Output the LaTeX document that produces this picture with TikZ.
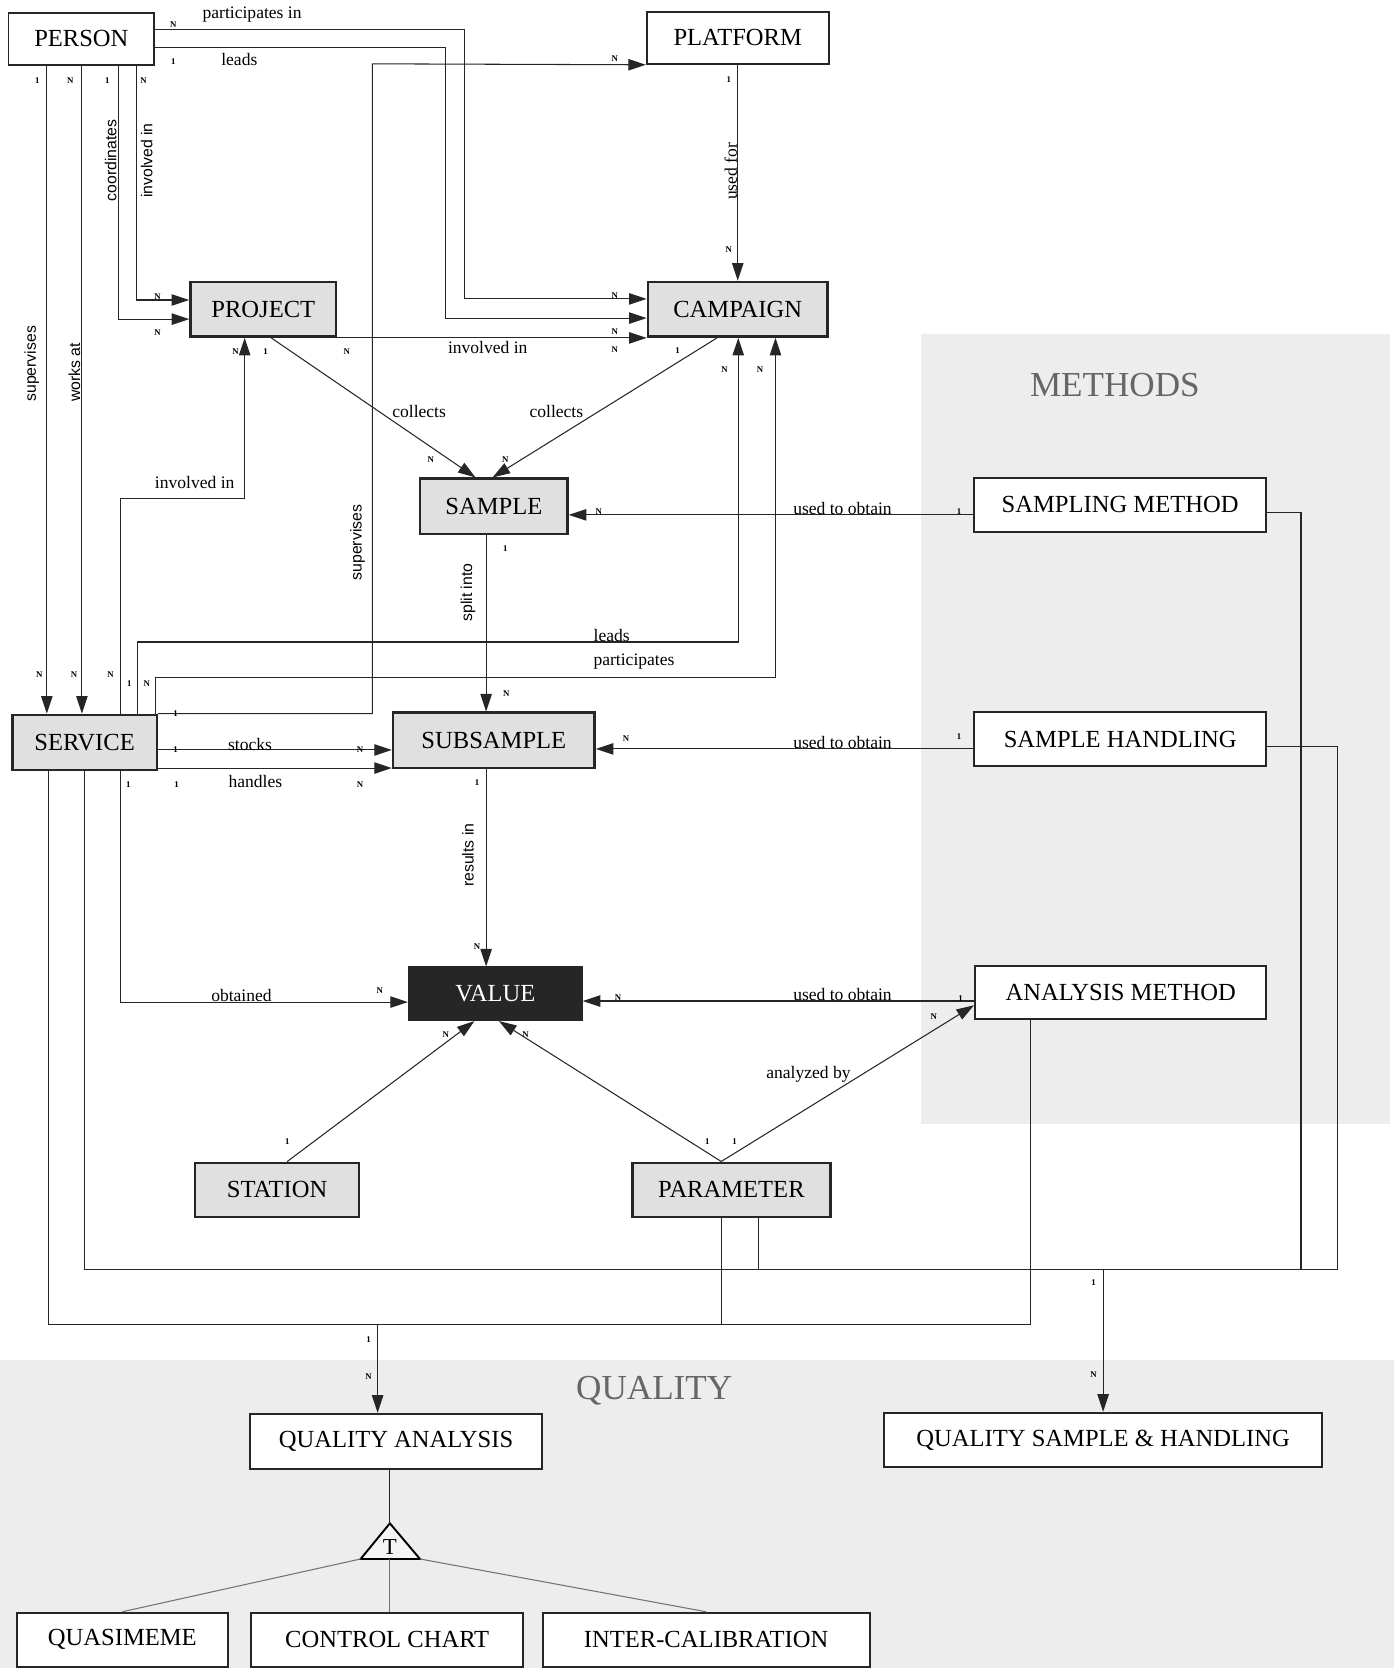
\documentclass[tikz,border=0pt]{standalone}
\usepackage{fontspec}
\setmainfont{Liberation Serif}
\setsansfont{Liberation Sans}
\usetikzlibrary{arrows.meta}

\begin{document}
\begin{tikzpicture}[x=0.0213cm, y=-0.0213cm,
    box/.style={draw=black!85, line width=1.1pt, fill=white, inner sep=0pt, font=\fontsize{14}{16}\selectfont},
    entity/.style={box, fill=black!12, line width=1.4pt},
    rel/.style={draw=black!85, line width=0.6pt, -{Triangle[length=10pt,width=6.5pt]}},
    link/.style={draw=black!85, line width=0.6pt},
    lab/.style={font=\fontsize{10}{12}\selectfont, inner sep=1pt},
    vlab/.style={font=\sffamily\fontsize{9}{11}\selectfont, rotate=90, inner sep=1pt},
    card/.style={font=\bfseries\fontsize{5}{6}\selectfont, inner sep=0pt},
    area/.style={fill=black!7, draw=none},
    title/.style={text=black!60, font=\fontsize{20}{24}\selectfont}]
        % \draw[help lines, gray!50, very thin] (0,0) grid[step=100] (1316,1568);
        \useasboundingbox (0,0) rectangle (1316,1568);

        \fill[area] (866,314) rectangle (1307,1057);
        \fill[area] (0,1278) rectangle (1310,1568);
        \node[title] (methods) at (1048,362) {METHODS};
        \node[title] (quality) at (615,1307) {QUALITY};

        \node[box, minimum width=2.918cm, minimum height=1.044cm] (person) at (76.5,36.5) {PERSON};
        \node[box, minimum width=3.642cm, minimum height=1.044cm] (platform) at (693.5,35.5) {PLATFORM};
        \node[entity, minimum width=2.918cm, minimum height=1.097cm] (project) at (247.5,290.75) {PROJECT};
        \node[entity, minimum width=3.600cm, minimum height=1.097cm] (campaign) at (693.5,290.75) {CAMPAIGN};
        \node[entity, minimum width=2.950cm, minimum height=1.108cm] (sample) at (464.25,476) {SAMPLE};
        \node[entity, minimum width=4.036cm, minimum height=1.108cm] (subsample) at (464.25,696) {SUBSAMPLE};
        \node[entity, minimum width=2.890cm, minimum height=1.108cm] (service) at (79.5,698) {SERVICE};
        \node[entity, fill=black!85, text=white, minimum width=3.451cm, minimum height=1.044cm] (value) at (465.65,934.2) {VALUE};
        \node[entity, minimum width=3.280cm, minimum height=1.086cm] (station) at (260.5,1118.5) {STATION};
        \node[entity, minimum width=3.962cm, minimum height=1.086cm] (parameter) at (687.5,1118.5) {PARAMETER};
        \node[box, minimum width=5.836cm, minimum height=1.086cm] (sampmethod) at (1053,474.5) {SAMPLING METHOD};
        \node[box, minimum width=5.836cm, minimum height=1.086cm] (samphandling) at (1053,695) {SAMPLE HANDLING};
        \node[box, minimum width=5.836cm, minimum height=1.065cm] (anmethod) at (1053.5,932.7) {ANALYSIS METHOD};
        \node[box, minimum width=5.858cm, minimum height=1.108cm] (qanalysis) at (372.3,1355) {QUALITY ANALYSIS};
        \node[box, minimum width=8.776cm, minimum height=1.086cm] (qsample) at (1037,1353.5) {QUALITY SAMPLE \& HANDLING};
        \node[box, minimum width=4.217cm, minimum height=1.086cm] (quasimeme) at (115,1541.5) {QUASIMEME};
        \node[box, minimum width=5.453cm, minimum height=1.086cm] (ctrlchart) at (364,1541.5) {CONTROL CHART};
        \node[box, minimum width=6.550cm, minimum height=1.086cm] (intercal) at (663.75,1541.5) {INTER-CALIBRATION};

        % person
        \draw[rel] (person.east |- 0,27.6) -| (437,281) -- (campaign.west |- 0,281);
        \node[lab] (lpart) at (237,14) {participates in};
        \draw[rel] (person.east |- 0,44.5) -| (419,299) -- (campaign.west |- 0,299);
        \node[lab] (lleads) at (225,56) {leads};
        \draw[rel] (person.south -| 44,0) -- (service.north -| 44,0);
        \node[vlab] (lsup) at (30,342) {supervises};
        \draw[rel] (person.south -| 77,0) -- (service.north -| 77,0);
        \node[vlab] (lworks) at (70,350) {works at};
        \draw[rel] (person.south -| 111,0) |- (project.west |- 0,300);
        \node[vlab] (lcoord) at (104,151) {coordinates};
        \draw[rel] (person.south -| 128,0) |- (project.west |- 0,282);
        \node[vlab] (linvolved) at (138,151) {involved in};

        % project, campaign, sample
        \draw[rel] (platform.south) -- (campaign.north);
        \node[lab, rotate=90] (lused) at (687,161) {used for};
        \draw[rel] (project.south east) -- (campaign.south west);
        \node[lab] (lprojcamp) at (458.5,327) {involved in};
        \draw[rel] (project.south -| 255,0) -- (sample.north -| 447,0);
        \node[lab] (lcollect) at (394,387) {collects};
        \draw[rel] (campaign.south -| 674,0) -- (sample.north -| 463,0);
        \node[lab] (lcollects) at (523,387) {collects};
        \draw[rel] (sample.south -| 457,0) -- (subsample.north -| 457,0);
        \node[vlab] (lsplit) at (440,557) {split into};
        \draw[rel] (subsample.south -| 457,0) -- (value.north -| 457,0);
        \node[vlab] (lresults) at (440,804) {results in};

        % service
        \draw[rel] (service.north -| 113,0) |- (230,468.5) -- (project.south -| 230,0);
        \node[lab] (lservproj) at (183,454) {involved in};
        \draw[rel] (service.north -| 129,0) |- (694,603.5) -- (campaign.south -| 694,0);
        \node[lab] (lservlead) at (575,597) {leads};
        \draw[rel] (service.north -| 146,0) |- (729,637) -- (campaign.south -| 729,0);
        \node[lab] (lservpart) at (596,622) {participates};
        \draw[rel] (service.north east) -| (350,60) -- (platform.south west);
        \node[vlab] (lservsup) at (336,510) {supervises};
        \draw[rel] (service.east |- 0,705) -- (subsample.west |- 0,705);
        \node[lab] (lstocks) at (235,700) {stocks};
        \draw[rel] (service.east |- 0,722) -- (subsample.west |- 0,722);
        \node[lab] (lhandles) at (240,735) {handles};
        \draw[rel] (service.south -| 113,0) |- (value.west |- 0,942);
        \node[lab] (lobtained) at (227,936) {obtained};

        % methods
        \draw[rel] (sampmethod.west |- 0,484) -- (sample.east |- 0,484);
        \node[lab] (luse) at (792,478) {used to obtain};
        \draw[rel] (samphandling.west |- 0,704) -- (subsample.east |- 0,704);
        \node[lab] (luseb) at (792,698) {used to obtain};
        \draw[rel] (anmethod.west |- 0,941) -- (value.east |- 0,941);
        \node[lab] (lusec) at (792,935) {used to obtain};
        \draw[rel] (station.north -| 270,0) -- (value.south -| 446,0);
        \draw[rel] (parameter.north -| 678,0) -- (value.south -| 469,0);
        \draw[rel] (parameter.north -| 678,0) -- (anmethod.west |- 0,945);
        \node[lab] (lanalyzed) at (760,1010) {analyzed by};

        % quality links
        \coordinate (busa) at (1037,1193.5);
        \coordinate (busb) at (355,1245);
        \draw[link] (service.south -| 79,0) |- (1257,1193.5) |- (samphandling.east |- 0,702);
        \draw[link] (sampmethod.east |- 0,482) -| (1223,1193.5);
        \draw[link] (parameter.south -| 713,0) -- (713,1193.5);
        \draw[rel] (busa) -- (qsample.north);
        \draw[link] (service.south -| 45.5,0) |- (969,1245) -- (anmethod.south -| 969,0);
        \draw[link] (parameter.south -| 678.5,0) -- (678.5,1245);
        \draw[rel] (busb) -- (qanalysis.north -| busb);

        \coordinate (isatop) at (366.5,1432);
        \coordinate (isaleft) at (339,1465.5);
        \coordinate (isaright) at (394.8,1465.5);
        \draw[line width=1.1pt, fill=black!4] (isatop) -- (isaleft) -- (isaright) -- cycle;
        \node[font=\fontsize{13}{14}\selectfont, inner sep=0pt] (isa) at (366.5,1454) {T};
        \draw[link] (qanalysis.south -| isatop) -- (isatop);
        \draw[link, draw=black!55] (isaleft) -- (quasimeme.north);
        \draw[link, draw=black!55] (isaright) -- (intercal.north);
        \draw[link, draw=black!55] (isaleft -| isatop) -- (ctrlchart.north -| isatop);

        % cardinalities
        \node[card] (c1) at (163,23.5) {N};
        \node[card] (c2) at (163,58) {1};
        \node[card] (c3) at (35,76) {1};
        \node[card] (c4) at (66,76) {N};
        \node[card] (c5) at (101,76) {1};
        \node[card] (c6) at (135,76) {N};
        \node[card] (c7) at (148,279) {N};
        \node[card] (c8) at (148,313) {N};
        \node[card] (c9) at (578,277.5) {N};
        \node[card] (c10) at (578,312) {N};
        \node[card] (c11) at (578,329) {N};
        \node[card] (c12) at (221.5,330.6) {N};
        \node[card] (c13) at (249.6,330.6) {1};
        \node[card] (c14) at (326,330.6) {N};
        \node[card] (c15) at (637,329.7) {1};
        \node[card] (c16) at (681,347) {N};
        \node[card] (c17) at (714.5,347) {N};
        \node[card] (c18) at (578,55) {N};
        \node[card] (c19) at (685,74.6) {1};
        \node[card] (c20) at (685,235) {N};
        \node[card] (c21) at (405,431.8) {N};
        \node[card] (c22) at (475,431.8) {N};
        \node[card] (c23) at (475,516) {1};
        \node[card] (c24) at (563,481) {N};
        \node[card] (c25) at (901.5,481) {1};
        \node[card] (c26) at (37,634.5) {N};
        \node[card] (c27) at (69.6,634.5) {N};
        \node[card] (c28) at (104,634.5) {N};
        \node[card] (c29) at (121.6,642.6) {1};
        \node[card] (c30) at (138,642.6) {N};
        \node[card] (c31) at (165,670.6) {1};
        \node[card] (c32) at (165,704.7) {1};
        \node[card] (c33) at (338.4,704.7) {N};
        \node[card] (c34) at (120.6,738) {1};
        \node[card] (c35) at (166,738) {1};
        \node[card] (c36) at (338.4,738) {N};
        \node[card] (c37) at (476,651.7) {N};
        \node[card] (c38) at (588.5,694) {N};
        \node[card] (c39) at (901.5,692.5) {1};
        \node[card] (c40) at (448.5,736) {1};
        \node[card] (c41) at (448.5,890) {N};
        \node[card] (c42) at (357,931.6) {N};
        \node[card] (c43) at (581,938) {N};
        \node[card] (c44) at (903,939) {1};
        \node[card] (c45) at (419,973) {N};
        \node[card] (c46) at (494,973) {N};
        \node[card] (c47) at (877.7,955.7) {N};
        \node[card] (c48) at (270,1073) {1};
        \node[card] (c49) at (665,1073) {1};
        \node[card] (c50) at (690.5,1073) {1};
        \node[card] (c51) at (346.4,1259.7) {1};
        \node[card] (c52) at (346.4,1294) {N};
        \node[card] (c53) at (1028,1206) {1};
        \node[card] (c54) at (1028,1292) {N};
      \end{tikzpicture}
\end{document}
